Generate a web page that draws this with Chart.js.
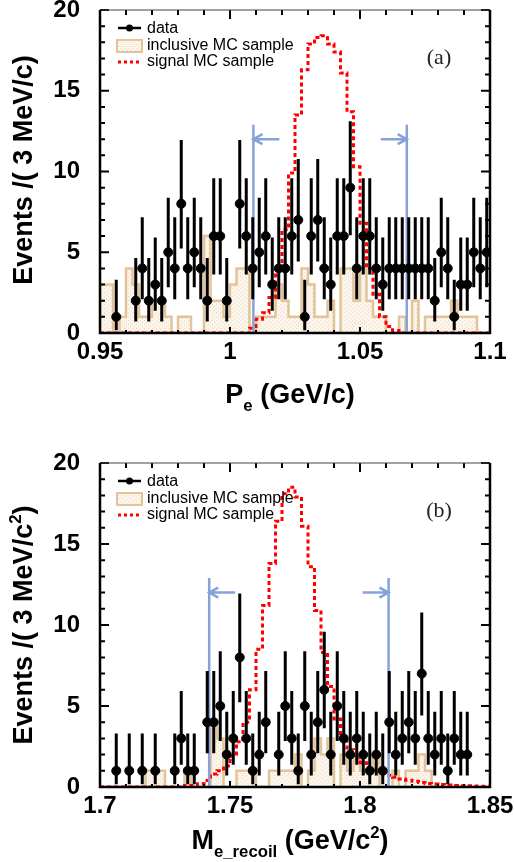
<!DOCTYPE html>
<html>
<head>
<meta charset="utf-8">
<script src="https://cdn.jsdelivr.net/npm/chart.js@4.4.0/dist/chart.umd.min.js"></script>
<style>
html, body { margin: 0; padding: 0; background: #fff; overflow: hidden; }
body { width: 514px; height: 862px; position: relative; }
.panel { position: absolute; left: 0; width: 514px; height: 431px; }
</style>
</head>
<body>
<div class="panel" style="top:0"><canvas id="chartA" width="514" height="431"></canvas></div>
<div class="panel" style="top:453px"><canvas id="chartB" width="514" height="431"></canvas></div>
<script>
'use strict';

// bins of 2.5 MeV, 60 bins per panel
const binW = 0.0025;

// panel (a): P_e
const rangeA = [0.95, 1.1];
const xTicksA = [0.95, 1, 1.05, 1.1];
const dataA = [0, 0, 1, 0, 0, 2, 4, 2, 3, 2, 5, 4, 8, 4, 5, 4, 2, 6, 6, 2,
    0, 8, 6, 4, 5, 6, 3, 4, 4, 6, 7, 1, 6, 7, 4, 3, 6, 6, 9, 4,
    6, 6, 4, 3, 4, 4, 4, 4, 4, 4, 4, 2, 5, 4, 1, 3, 3, 5, 4, 5];
const inclA = [0, 3, 3, 0, 1, 4, 3, 1, 1, 2, 2, 1, 0, 1, 1, 0, 0, 6, 2, 2,
    1, 3, 4, 4, 0, 1, 1, 1, 3, 2, 1, 1, 4, 3, 1, 1, 2, 0, 4, 4,
    2, 4, 2, 1, 1, 0, 0, 1, 0, 2, 0, 1, 1, 1, 1, 2, 1, 1, 1, 0];
const signalA = [0, 0, 0, 0, 0, 0, 0, 0, 0, 0, 0, 0, 0, 0, 0, 0, 0, 0, 0, 0,
    0, 0, 0, 0, 0.3, 0.85, 1.25, 2.2, 3.9, 6.4, 9.9, 13.5, 16.3, 17.9, 18.3, 18.4, 17.9, 17.4, 16.1, 13.7,
    10.3, 6.8, 4.0, 2.4, 1.0, 0.4, 0.15, 0, 0, 0, 0, 0, 0, 0, 0, 0, 0, 0, 0, 0];
const cutsA = [1.009, 1.068];

// panel (b): M_e_recoil
const rangeB = [1.7, 1.85];
const xTicksB = [1.7, 1.75, 1.8, 1.85];
const dataB = [0, 0, 1, 0, 1, 0, 1, 0, 1, 0, 0, 1, 3, 1, 1, 0, 4, 4, 5, 2,
    3, 8, 3, 1, 2, 4, 0, 2, 5, 3, 1, 5, 2, 4, 6, 2, 5, 3, 2, 3,
    2, 1, 2, 1, 4, 2, 3, 4, 3, 7, 3, 2, 3, 1, 3, 2, 2, 0, 0, 0];
const inclB = [0, 0, 0, 0, 0, 0, 0, 0, 1, 1, 1, 0, 0, 0, 1, 0, 0, 0, 4, 3,
    0, 0, 1, 1, 1, 0, 0, 1, 1, 1, 1, 2, 0, 1, 3, 2, 3, 0, 2, 1,
    2, 1, 1, 2, 0, 0, 1, 0, 1, 1, 2, 1, 0, 0, 0, 0, 0, 0, 0, 0];
const signalB = [0, 0, 0, 0, 0, 0, 0, 0, 0, 0, 0, 0, 0, 0, 0.1, 0.1, 0.2, 0.4, 0.8, 1.0,
    1.3, 1.9, 2.8, 4.0, 6.0, 8.5, 11.2, 13.8, 16.4, 18.1, 18.5, 17.9, 16.1, 13.6, 10.9, 8.3, 6.2, 4.2, 3.0, 2.3,
    1.8, 1.5, 1.2, 1.05, 0.85, 0.72, 0.6, 0.5, 0.42, 0.35, 0.28, 0.22, 0.18, 0.15, 0.12, 0.1, 0.08, 0.07, 0.06, 0.05];
const cutsB = [1.742, 1.811];

const yTicks = [0, 5, 10, 15, 20];
// poisson (garwood) error lengths for n = 0..9
const poisDown = [0, 0.83, 1.29, 1.63, 1.91, 2.16, 2.38, 2.58, 2.77, 2.94];
const poisUp = [1.84, 2.30, 2.64, 2.92, 3.16, 3.38, 3.58, 3.77, 3.95, 4.11];
const cutTop = 12.9;
const arrowY = 12;

const tan = 'rgb(226,196,152)';
const blue = 'rgb(135,162,216)';

Chart.defaults.font.family = '"Liberation Sans", Arial, sans-serif';

function tanPattern() {
    const c = document.createElement('canvas');
    c.width = 4; c.height = 4;
    const g = c.getContext('2d');
    g.fillStyle = 'rgb(252,245,236)';
    g.fillRect(0, 0, 4, 4);
    g.fillStyle = 'rgb(234,216,194)';
    g.fillRect(0, 0, 1, 1);
    g.fillRect(2, 2, 1, 1);
    return g.createPattern(c, 'repeat');
}

function histPoints(lo, vals) {
    const pts = vals.map((v, i) => ({x: lo + i * binW, y: v}));
    pts.push({x: lo + vals.length * binW, y: vals[vals.length - 1]});
    return pts;
}

function dataPoints(lo, counts) {
    return counts.map((n, i) => ({x: lo + (i + 0.5) * binW, y: n})).filter(p => p.y > 0);
}

function errorBars(lo, counts) {
    const pts = [];
    counts.forEach((n, i) => {
        if (n <= 0) return;
        const c = lo + (i + 0.5) * binW;
        pts.push({x: c, y: n - poisDown[n]}, {x: c, y: n + poisUp[n]}, {x: c, y: null});
    });
    return pts;
}

function cutLines(cuts) {
    const pts = [];
    const dir = [1, -1];
    cuts.forEach((c, k) => {
        const d = dir[k];
        pts.push({x: c, y: 0}, {x: c, y: cutTop}, {x: c, y: null});
        pts.push({x: c, y: arrowY}, {x: c + d * 0.01, y: arrowY}, {x: c, y: null});
        pts.push({x: c + d * 0.0035, y: arrowY + 0.31}, {x: c, y: arrowY}, {x: c + d * 0.0035, y: arrowY - 0.31}, {x: c, y: null});
    });
    return pts;
}

function measureRuns(ctx, runs, size) {
    let w = 0;
    const parts = runs.map(r => {
        const s = r.k === 'n' ? size : size * 0.62;
        ctx.font = 'bold ' + s + 'px "Liberation Sans", Arial, sans-serif';
        const tw = ctx.measureText(r.t).width;
        w += tw;
        return {t: r.t, s: s, w: tw, dy: r.k === 'sub' ? size * 0.28 : (r.k === 'sup' ? -size * 0.42 : 0)};
    });
    return {w: w, parts: parts};
}

function paintRuns(ctx, runs, size, cx, baseY) {
    const m = measureRuns(ctx, runs, size);
    let x = cx - m.w / 2;
    m.parts.forEach(p => {
        ctx.font = 'bold ' + p.s + 'px "Liberation Sans", Arial, sans-serif';
        ctx.fillText(p.t, x, baseY + p.dy);
        x += p.w;
    });
}

const deco = {
    id: 'deco',
    afterDraw(chart, args, o) {
        const {ctx, chartArea: a, scales: {x, y}} = chart;
        ctx.save();
        // inward ticks
        ctx.strokeStyle = '#000';
        ctx.lineWidth = 2;
        ctx.beginPath();
        for (let v = 0; v <= 20; v++) {
            const py = y.getPixelForValue(v);
            const len = v % 5 === 0 ? 9 : 5;
            ctx.moveTo(a.left, py); ctx.lineTo(a.left + len, py);
            ctx.moveTo(a.right, py); ctx.lineTo(a.right - len, py);
        }
        for (let i = 0; i <= 15; i++) {
            const px = x.getPixelForValue(o.lo + i * 0.01);
            const major = i % 5 === 0;
            ctx.moveTo(px, a.top); ctx.lineTo(px, a.top + (major ? 9 : 5));
            ctx.moveTo(px, a.bottom); ctx.lineTo(px, a.bottom - (major ? 6 : 3));
        }
        ctx.stroke();
        // frame
        ctx.lineWidth = 1;
        ctx.strokeStyle = '#444';
        ctx.beginPath();
        ctx.moveTo(a.left, a.top); ctx.lineTo(a.right, a.top);
        ctx.stroke();
        ctx.lineWidth = 2.5;
        ctx.strokeStyle = '#000';
        ctx.beginPath();
        ctx.moveTo(a.left, a.top); ctx.lineTo(a.left, a.bottom); ctx.lineTo(a.right, a.bottom); ctx.lineTo(a.right, a.top);
        ctx.stroke();

        // legend
        const lx = a.left + 17, tx = a.left + 47;
        ctx.font = '16px "Liberation Sans", Arial, sans-serif';
        ctx.fillStyle = '#000';
        ctx.textBaseline = 'middle';
        ctx.lineWidth = 2.5;
        ctx.beginPath(); ctx.moveTo(lx + 1, a.top + 18); ctx.lineTo(lx + 24, a.top + 18); ctx.stroke();
        ctx.beginPath(); ctx.arc(lx + 12.5, a.top + 18, 3.5, 0, Math.PI * 2); ctx.fill();
        ctx.fillText('data', tx, a.top + 19);
        ctx.fillStyle = tanPattern();
        ctx.fillRect(lx, a.top + 30, 25, 12);
        ctx.strokeStyle = tan; ctx.lineWidth = 2;
        ctx.strokeRect(lx, a.top + 30, 25, 12);
        ctx.fillStyle = '#000';
        ctx.fillText('inclusive MC sample', tx, a.top + 36);
        ctx.strokeStyle = '#f00'; ctx.lineWidth = 3; ctx.setLineDash([3, 3]);
        ctx.beginPath(); ctx.moveTo(lx + 1, a.top + 52); ctx.lineTo(lx + 24, a.top + 52); ctx.stroke();
        ctx.setLineDash([]);
        ctx.fillText('signal MC sample', tx, a.top + 52);

        // panel label
        ctx.font = '22px "Liberation Serif", "Times New Roman", serif';
        ctx.fillStyle = '#222';
        ctx.textAlign = 'center';
        ctx.fillText(o.tag, 439, a.top + 48);

        // axis titles
        ctx.textAlign = 'left';
        ctx.textBaseline = 'alphabetic';
        ctx.fillStyle = '#000';
        paintRuns(ctx, o.xTitle, 27, 290, o.xTitleY);
        ctx.translate(32, o.yTitleC);
        ctx.rotate(-Math.PI / 2);
        paintRuns(ctx, o.yTitle, 27, 0, 0);
        ctx.restore();
    }
};

function makeChart(id, p) {
    const tickFont = {size: 24, weight: 'bold'};
    return new Chart(document.getElementById(id), {
        type: 'line',
        data: {
            datasets: [
                {label: 'data', data: dataPoints(p.range[0], p.counts), showLine: false,
                    pointRadius: 4.5, pointBackgroundColor: '#000', pointBorderColor: '#000', order: 1},
                {label: 'errors', data: errorBars(p.range[0], p.counts), borderColor: '#000',
                    borderWidth: 3, pointRadius: 0, spanGaps: false, borderCapStyle: 'butt', order: 2},
                {label: 'cuts', data: cutLines(p.cuts), borderColor: blue, borderWidth: 2.5,
                    pointRadius: 0, spanGaps: false, order: 3},
                {label: 'signal MC sample', data: histPoints(p.range[0], p.signal), stepped: 'after',
                    borderColor: '#f00', borderDash: [4, 3], borderWidth: 3, pointRadius: 0, fill: false, order: 4},
                {label: 'inclusive MC sample', data: histPoints(p.range[0], p.incl), stepped: 'after',
                    borderColor: tan, borderWidth: 2.5, backgroundColor: tanPattern(), fill: 'origin',
                    pointRadius: 0, order: 5}
            ]
        },
        options: {
            responsive: false,
            animation: false,
            events: [],
            layout: {padding: {top: 10, right: 24, left: 0, bottom: 0}},
            plugins: {
                legend: {display: false},
                tooltip: {enabled: false},
                deco: {lo: p.range[0], tag: p.tag, xTitle: p.xTitle, yTitle: p.yTitle, xTitleY: p.xTitleY, yTitleC: p.yTitleC}
            },
            scales: {
                x: {
                    type: 'linear', min: p.range[0], max: p.range[1],
                    grid: {display: false, drawTicks: false}, border: {display: false},
                    ticks: {font: tickFont, color: '#000', padding: 5, maxRotation: 0, autoSkip: false,
                        callback: v => String(+v.toFixed(2))},
                    afterBuildTicks: s => { s.ticks = p.xTicks.map(v => ({value: v})); },
                    afterFit: s => { s.height = p.xAxisH; s.paddingLeft = 0; s.paddingRight = 0; }
                },
                y: {
                    type: 'linear', min: 0, max: 20,
                    grid: {display: false, drawTicks: false}, border: {display: false},
                    ticks: {font: tickFont, color: '#000', padding: 20},
                    afterBuildTicks: s => { s.ticks = yTicks.map(v => ({value: v})); },
                    afterFit: s => { s.width = 100; s.paddingTop = 0; s.paddingBottom = 0; }
                }
            }
        },
        plugins: [deco]
    });
}

makeChart('chartA', {
    range: rangeA, xTicks: xTicksA, counts: dataA, incl: inclA, signal: signalA, cuts: cutsA,
    tag: '(a)', xAxisH: 98, xTitleY: 403, yTitleC: 170,
    xTitle: [{t: 'P', k: 'n'}, {t: 'e', k: 'sub'}, {t: ' (GeV/c)', k: 'n'}],
    yTitle: [{t: 'Events /( 3 MeV/c)', k: 'n'}]
});

makeChart('chartB', {
    range: rangeB, xTicks: xTicksB, counts: dataB, incl: inclB, signal: signalB, cuts: cutsB,
    tag: '(b)', xAxisH: 97, xTitleY: 396, yTitleC: 172,
    xTitle: [{t: 'M', k: 'n'}, {t: 'e_recoil', k: 'sub'}, {t: ' (GeV/c', k: 'n'}, {t: '2', k: 'sup'}, {t: ')', k: 'n'}],
    yTitle: [{t: 'Events /( 3 MeV/c', k: 'n'}, {t: '2', k: 'sup'}, {t: ')', k: 'n'}]
});
</script>
</body>
</html>
